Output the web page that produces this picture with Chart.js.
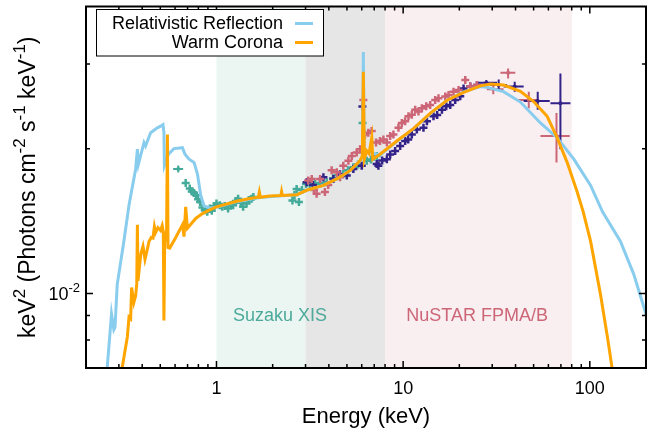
<!DOCTYPE html>
<html>
<head>
<meta charset="utf-8">
<script src="https://cdn.jsdelivr.net/npm/chart.js@4.4.1/dist/chart.umd.min.js"></script>
<style>
  html, body { margin: 0; background: #fff; }
  #wrap { width: 659px; height: 432px; }
</style>
</head>
<body>
<div id="wrap"><canvas id="c"></canvas></div>
<script>
const FONT = "'Liberation Sans', Arial, Helvetica, sans-serif";

/* ---------- model curves (energy keV, keV^2 flux) ---------- */
const reflE = [0.258, 0.274, 0.282, 0.286, 0.294, 0.319, 0.340, 0.369, 0.377, 0.382,
  0.409, 0.417, 0.444, 0.482, 0.502, 0.517, 0.523, 0.526, 0.553, 0.592,
  0.657, 0.678, 0.713, 0.758, 0.791, 0.823, 0.858, 0.921, 1.00, 1.28,
  1.71, 2.23, 2.69, 3.04, 3.74, 4.41, 5.19, 5.88, 6.05, 6.12,
  6.19, 6.38, 7.52, 9.25, 11.4, 14.0, 17.2, 21.1, 25.9, 28.1,
  34.5, 42.5, 54.4, 66.8, 82.1, 101, 117, 146, 172, 201];
const reflF = [0.00678, 0.00907, 0.00841, 0.00850, 0.01045, 0.01283, 0.01527, 0.01815, 0.01995, 0.01858,
  0.02059, 0.02027, 0.02158, 0.02210, 0.02228, 0.02245, 0.02158, 0.01844, 0.01948, 0.02001,
  0.02010, 0.01948, 0.01902, 0.01873, 0.01772, 0.01600, 0.01520, 0.01506, 0.01510, 0.01552,
  0.01583, 0.01596, 0.01604, 0.01639, 0.01678, 0.01730, 0.01800, 0.01890, 0.01925, 0.03176,
  0.01918, 0.01970, 0.01940, 0.02068, 0.02204, 0.02366, 0.02522, 0.02625, 0.02692, 0.02683,
  0.02628, 0.02500, 0.02262, 0.02108, 0.01902, 0.01678, 0.01478, 0.01283, 0.01096, 0.00900];

const warmE = [0.310, 0.333, 0.340, 0.347, 0.351, 0.361, 0.369, 0.374, 0.377, 0.380,
  0.393, 0.404, 0.414, 0.426, 0.435, 0.447, 0.457, 0.465, 0.472, 0.486,
  0.502, 0.512, 0.519, 0.523, 0.528, 0.540, 0.546, 0.550, 0.562, 0.605,
  0.657, 0.670, 0.684, 0.699, 0.774, 0.841, 0.921, 1.00, 1.28, 1.51,
  1.676, 1.697, 1.718, 1.93, 2.214, 2.233, 2.255, 2.69, 3.04, 3.74,
  4.41, 5.19, 5.88, 6.047, 6.122, 6.198, 6.384, 6.568, 6.792, 6.877,
  7.52, 9.25, 11.4, 14.0, 17.2, 21.1, 25.9, 29.3, 34.5, 42.5,
  50.0, 59.1, 66.8, 75.6, 85.6, 92.2, 101, 114, 125, 134];
const warmF = [0.00688, 0.00812, 0.00893, 0.00886, 0.01029, 0.00958, 0.00989, 0.01047, 0.01389, 0.01062,
  0.01206, 0.01253, 0.01178, 0.01235, 0.01283, 0.01307, 0.01304, 0.01377, 0.01339, 0.01371,
  0.01352, 0.01384, 0.01345, 0.00879, 0.01283, 0.01295, 0.02141, 0.01247, 0.01243, 0.01307,
  0.01389, 0.01313, 0.01514, 0.01366, 0.01432, 0.01466, 0.01492, 0.01514, 0.01555, 0.01576,
  0.01585, 0.01625, 0.01585, 0.01595, 0.01598, 0.01629, 0.01599, 0.01604, 0.01639, 0.01678,
  0.01730, 0.01800, 0.01890, 0.01932, 0.02889, 0.01902, 0.01979, 0.01954, 0.02108, 0.01902,
  0.01948, 0.02075, 0.02204, 0.02372, 0.02522, 0.02619, 0.02702, 0.02725, 0.02713, 0.02632,
  0.02506, 0.02335, 0.02108, 0.01873, 0.01625, 0.01478, 0.01283, 0.00997, 0.00800, 0.00668];

/* ---------- data points ---------- */
const xisE = [0.684, 0.719, 0.737, 0.758, 0.777, 0.797, 0.817, 0.841, 0.865, 0.893,
  0.921, 0.944, 0.973, 1.000, 1.042, 1.074, 1.108, 1.154, 1.193, 1.228,
  1.269, 1.306, 1.350, 1.389, 1.449, 1.491, 1.541, 1.576, 2.553, 2.617,
  2.688, 2.765, 2.870, 3.016, 3.168, 3.370, 3.585, 3.894, 4.210, 4.478,
  4.781, 5.068, 5.411, 5.735, 6.063, 6.384, 6.733, 7.224];
const xisF = [0.01698, 0.01652, 0.01629, 0.01617, 0.01602, 0.01570, 0.01550, 0.01510, 0.01489, 0.01478,
  0.01502, 0.01486, 0.01521, 0.01538, 0.01526, 0.01514, 0.01521, 0.01502, 0.01528, 0.01526,
  0.01557, 0.01574, 0.01543, 0.01514, 0.01538, 0.01564, 0.01574, 0.01587, 0.01560, 0.01602,
  0.01648, 0.01550, 0.01641, 0.01688, 0.01678, 0.01688, 0.01696, 0.01704, 0.01736, 0.01761,
  0.01772, 0.01803, 0.01829, 0.01855, 0.02262, 0.01888, 0.01899, 0.01932];
// [E, F, Elo, Ehi, Flo, Fhi]
const xisWide = [[0.624, 0.01815, 0.586, 0.663, 0.01785, 0.01845]];

const fpmaE = [3.10, 3.24, 3.33, 3.44, 3.59, 3.81, 3.97, 4.14, 4.41, 4.59,
  4.78, 5.09, 5.31, 5.64, 5.88, 6.12, 6.25, 6.51, 6.79, 7.16,
  7.52, 7.84, 8.18, 8.52, 8.87, 9.44, 9.84, 10.25, 10.68, 11.13,
  11.6, 12.08, 12.6, 13.29, 13.96, 14.85, 15.47, 16.81, 17.51, 18.62,
  19.81, 21.52, 22.88, 24.86];
const fpmaF = [0.01718, 0.01730, 0.01641, 0.01612, 0.01730, 0.01625, 0.01680, 0.01803, 0.01786, 0.01745,
  0.01844, 0.01888, 0.01932, 0.01963, 0.01995, 0.02526, 0.02141, 0.02158, 0.02176, 0.02059,
  0.02075, 0.02091, 0.02059, 0.02125, 0.02141, 0.02210, 0.02262, 0.02281, 0.02335, 0.02353,
  0.02409, 0.02390, 0.02428, 0.02450, 0.02466, 0.02526, 0.02547, 0.02567, 0.02587, 0.02628,
  0.02649, 0.02777, 0.02692, 0.02713];
const fpmaWide = [
  [30.4, 0.02657, 28.1, 34.5, 0.02596, 0.02715],
  [36.5, 0.02875, 33.2, 39.9, 0.02799, 0.02934],
  [47.1, 0.02526, 40.8, 53.2, 0.02428, 0.02628],
  [66.3, 0.02125, 54.4, 78.1, 0.01873, 0.02372]
];

const fpmbE = [3.04, 3.29, 3.74, 4.23, 4.59, 4.99, 5.41, 6.00, 6.05, 7.22,
  7.37, 7.72, 8.18, 8.52, 9.06, 9.64, 10.25, 10.64, 11.13, 11.84,
  12.85, 13.41, 14.54, 15.22, 16.14, 17.01, 17.88, 19.01, 20.23, 21.07,
  22.88, 24.86];
const fpmbF = [0.01704, 0.01680, 0.01745, 0.01730, 0.01769, 0.01758, 0.01815, 0.01844, 0.02448, 0.01858,
  0.01844, 0.01890, 0.01902, 0.01945, 0.01979, 0.02027, 0.02075, 0.02091, 0.02141, 0.02192,
  0.02210, 0.02281, 0.02335, 0.02350, 0.02409, 0.02450, 0.02466, 0.02526, 0.02570, 0.02669,
  0.02692, 0.02713];
const fpmbWide = [
  [27.9, 0.02743, 24.86, 31.84, 0.02702, 0.02779],
  [32.5, 0.02713, 29.31, 36.03, 0.02645, 0.02786],
  [39.6, 0.02692, 34.54, 44.23, 0.02628, 0.02755],
  [52.6, 0.02514, 44.23, 60.99, 0.02409, 0.02628],
  [69.6, 0.02487, 61.52, 78.76, 0.01995, 0.02866]
];

/* ---------- axes / bands ---------- */
const xTicks = [0.2, 0.3, 0.4, 0.5, 0.6, 0.7, 0.8, 0.9, 1, 2, 3, 4, 5, 6, 7, 8, 9,
  10, 20, 30, 40, 50, 60, 70, 80, 90, 100, 200];
const xLabelled = [1, 10, 100];
const yTicks = [0.008, 0.009, 0.01, 0.02, 0.03];
const bandEdges = [[1, 3], [3, 8], [8, 80]];
const bandNames = ["Suzaku XIS", "", "NuSTAR FPMA/B"];

const ORANGE = "#ffa500", BLUE = "#88ccee", TEAL = "#44aa99", ROSE = "#cc6677", INDIGO = "#332288";
const bandFill = ["#ebf5f2", "#e6e6e6", "#f9eef0"];
const bandText = ["#4caa9a", null, "#cc6677"];

const pts = (es, fs) => es.map((e, i) => ({ x: e, y: fs[i] }));
const isMajor = v => Math.abs(Math.log10(v) - Math.round(Math.log10(v))) < 1e-6;

// text with superscripts, parts = [[text, isSup], ...]
function drawRich(ctx, parts, x, y, size, align) {
  const sup = Math.round(size * 0.72);
  const w = parts.map(([t, s]) => { ctx.font = (s ? sup : size) + "px " + FONT; return ctx.measureText(t).width; });
  const total = w.reduce((a, b) => a + b, 0);
  let cx = align === "right" ? x - total : align === "center" ? x - total / 2 : x;
  ctx.textAlign = "left";
  ctx.textBaseline = "alphabetic";
  parts.forEach(([t, s], i) => {
    ctx.font = (s ? sup : size) + "px " + FONT;
    ctx.fillText(t, cx, s ? y - size * 0.42 : y);
    cx += w[i];
  });
}

/* ===== bands, band labels, error bars ===== */
const bandsPlugin = {
  id: "bands",
  beforeDatasetsDraw(chart) {
    const { ctx, chartArea: a, scales: { x, y } } = chart;
    ctx.save();
    ctx.beginPath();
    ctx.rect(a.left, a.top, a.right - a.left, a.bottom - a.top);
    ctx.clip();
    bandEdges.forEach(([lo, hi], i) => {
      const x0 = x.getPixelForValue(lo), x1 = x.getPixelForValue(hi);
      ctx.fillStyle = bandFill[i];
      ctx.fillRect(x0, a.top, x1 - x0, a.bottom - a.top);
    });
    ctx.font = "18px " + FONT;
    ctx.textAlign = "center";
    ctx.textBaseline = "middle";
    // band labels sit in the lower part of the frame
    const labelY = y.getPixelForValue(0.00896);
    [2.19, null, 24.9].forEach((e, i) => {
      if (!e) return;
      ctx.fillStyle = bandText[i];
      ctx.fillText(bandNames[i], x.getPixelForValue(e), labelY);
    });

    // error bars
    chart.data.datasets.forEach(ds => {
      if (!ds.errorBars) return;
      ctx.strokeStyle = ds.borderColor;
      ctx.lineWidth = 2;
      ctx.beginPath();
      ds.errorBars.forEach(([e, f, elo, ehi, flo, fhi]) => {
        const px = x.getPixelForValue(e), py = y.getPixelForValue(f);
        ctx.moveTo(x.getPixelForValue(elo), py);
        ctx.lineTo(x.getPixelForValue(ehi), py);
        ctx.moveTo(px, y.getPixelForValue(flo));
        ctx.lineTo(px, y.getPixelForValue(fhi));
      });
      ctx.stroke();
    });
    ctx.restore();
  }
};

/* ===== frame, inward ticks, y labels ===== */
const framePlugin = {
  id: "frame",
  afterDatasetsDraw(chart) {
    const { ctx, chartArea: a, scales: { x, y } } = chart;
    ctx.save();
    ctx.strokeStyle = "#000";
    ctx.lineWidth = 1.5;
    ctx.beginPath();
    x.ticks.forEach(t => {
      const px = x.getPixelForValue(t.value), len = isMajor(t.value) ? 7 : 4;
      ctx.moveTo(px, a.bottom); ctx.lineTo(px, a.bottom - len);
      ctx.moveTo(px, a.top); ctx.lineTo(px, a.top + len);
    });
    y.ticks.forEach(t => {
      const py = y.getPixelForValue(t.value), len = isMajor(t.value) ? 7 : 4;
      ctx.moveTo(a.left, py); ctx.lineTo(a.left + len, py);
      ctx.moveTo(a.right, py); ctx.lineTo(a.right - len, py);
    });
    ctx.stroke();
    ctx.lineWidth = 2;
    ctx.strokeRect(a.left, a.top, a.right - a.left, a.bottom - a.top);

    ctx.fillStyle = "#000";
    y.ticks.forEach(t => {
      if (!isMajor(t.value)) return;
      const exp = Math.round(Math.log10(t.value));
      drawRich(ctx, [["10", 0], [String(exp), 1]], a.left - 6, y.getPixelForValue(t.value) + 6.5, 18, "right");
    });

    // y title
    ctx.save();
    ctx.translate(35, (a.top + a.bottom) / 2);
    ctx.rotate(-Math.PI / 2);
    drawRich(ctx, [["keV", 0], ["2", 1], [" (Photons cm", 0], ["-2", 1], [" s", 0], ["-1", 1],
      [" keV", 0], ["-1", 1], [")", 0]], 0, 0, 23, "center");
    ctx.restore();
    ctx.restore();
  }
};

/* ===== boxed legend (gnuplot style) ===== */
const legendPlugin = {
  id: "boxLegend",
  afterDraw(chart) {
    const { ctx } = chart;
    const items = chart.data.datasets.filter(d => d.inLegend)
      .sort((p, q) => p.inLegend - q.inLegend);
    ctx.save();
    ctx.fillStyle = "#fff";
    ctx.fillRect(96.5, 9.5, 227, 46.5);
    ctx.strokeStyle = "#000";
    ctx.lineWidth = 1;
    ctx.strokeRect(96.5, 9.5, 227, 46.5);
    ctx.font = "18px " + FONT;
    ctx.textAlign = "right";
    ctx.textBaseline = "middle";
    items.forEach((d, i) => {
      const yy = 23.5 + i * 19;
      ctx.fillStyle = "#000";
      ctx.fillText(d.label, 283, yy + 1);
      ctx.strokeStyle = d.borderColor;
      ctx.lineWidth = 3;
      ctx.beginPath();
      ctx.moveTo(295, yy);
      ctx.lineTo(313, yy);
      ctx.stroke();
    });
    ctx.restore();
  }
};

new Chart(document.getElementById("c"), {
  type: "scatter",
  data: {
    datasets: [
      { label: "Warm Corona", inLegend: 2, data: pts(warmE, warmF), showLine: true,
        borderColor: ORANGE, borderWidth: 3, pointRadius: 0, tension: 0, order: 0 },
      { label: "Relativistic Reflection", inLegend: 1, data: pts(reflE, reflF), showLine: true,
        borderColor: BLUE, borderWidth: 3, pointRadius: 0, tension: 0, order: 1 },
      { label: "FPMA", data: pts(fpmaE, fpmaF), pointStyle: "cross", pointRadius: 4,
        borderColor: ROSE, borderWidth: 2.5, order: 2 },
      { label: "FPMA wide", data: fpmaWide.map(r => ({ x: r[0], y: r[1] })), errorBars: fpmaWide,
        pointRadius: 2, backgroundColor: ROSE, borderColor: ROSE, borderWidth: 0, order: 2 },
      { label: "FPMB", data: pts(fpmbE, fpmbF), pointStyle: "cross", pointRadius: 4,
        borderColor: INDIGO, borderWidth: 2.5, order: 3 },
      { label: "FPMB wide", data: fpmbWide.map(r => ({ x: r[0], y: r[1] })), errorBars: fpmbWide,
        pointRadius: 2, backgroundColor: INDIGO, borderColor: INDIGO, borderWidth: 0, order: 3 },
      { label: "XIS", data: pts(xisE, xisF), pointStyle: "cross", pointRadius: 4,
        borderColor: TEAL, borderWidth: 2.5, order: 4 },
      { label: "XIS wide", data: xisWide.map(r => ({ x: r[0], y: r[1] })), errorBars: xisWide,
        pointRadius: 2, backgroundColor: TEAL, borderColor: TEAL, borderWidth: 0, order: 4 }
    ]
  },
  options: {
    responsive: true,
    maintainAspectRatio: false,
    animation: false,
    layout: { padding: { top: 2, right: 13, left: 0, bottom: 0 } },
    plugins: { legend: { display: false }, tooltip: { enabled: false } },
    scales: {
      x: {
        type: "logarithmic", min: 0.2, max: 200, bounds: "data", position: "bottom",
        afterBuildTicks: s => { s.ticks = xTicks.map(v => ({ value: v })); },
        afterFit: s => { s.height = 64; },
        grid: { display: false, drawTicks: false },
        border: { display: false },
        ticks: {
          autoSkip: false, maxRotation: 0, minRotation: 0, padding: 10, color: "#000",
          font: { family: FONT, size: 18 },
          callback: v => (xLabelled.includes(v) ? String(v) : "")
        },
        title: {
          display: true, text: "Energy (keV)", color: "#000",
          font: { family: FONT, size: 22 }, padding: { top: 0, bottom: 2 }
        }
      },
      y: {
        type: "logarithmic", min: 0.007, max: 0.0395, bounds: "data",
        afterBuildTicks: s => { s.ticks = yTicks.map(v => ({ value: v })); },
        afterFit: s => { s.width = 86; },
        grid: { display: false, drawTicks: false },
        border: { display: false },
        ticks: { display: false }
      }
    }
  },
  plugins: [bandsPlugin, framePlugin, legendPlugin]
});
</script>
</body>
</html>
